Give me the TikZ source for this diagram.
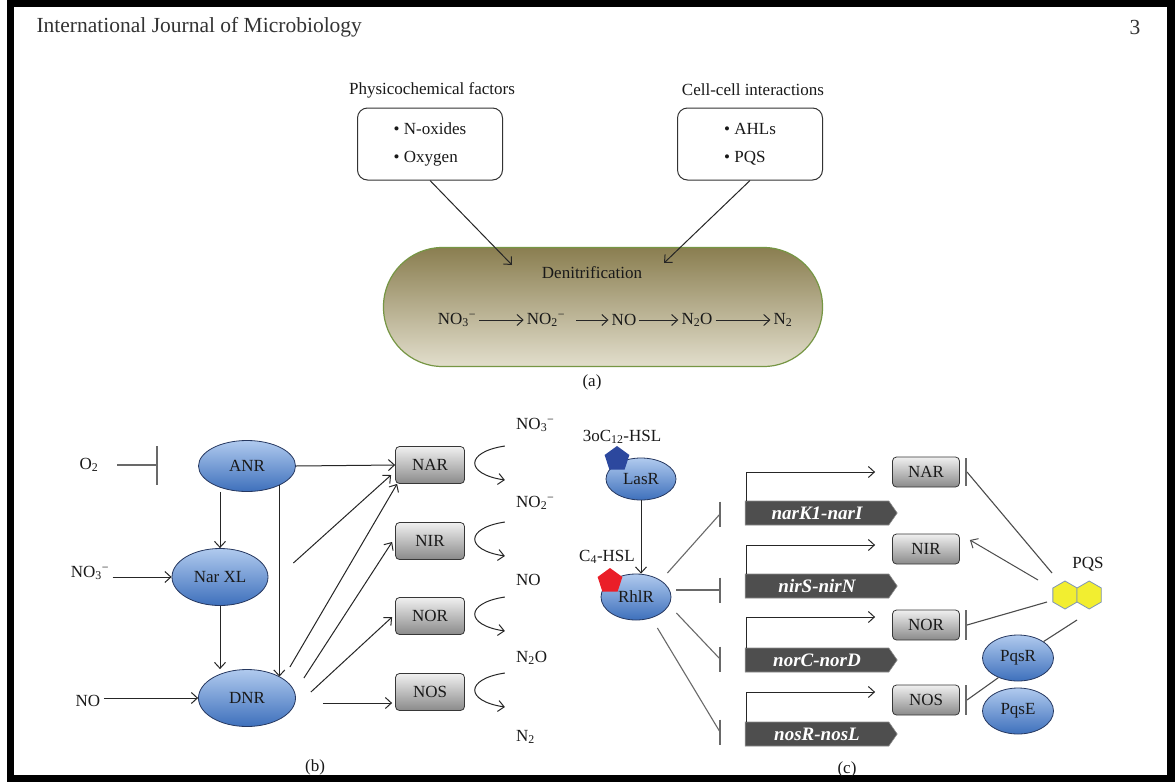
\documentclass[tikz,border=0pt]{standalone}
\usepackage{fontspec}
\setmainfont{Liberation Serif}
\usetikzlibrary{arrows.meta,shapes.geometric,shapes.symbols,calc}
\definecolor{ellTop}{RGB}{176,202,238}
\definecolor{ellBot}{RGB}{62,112,188}
\definecolor{ellLine}{RGB}{38,56,96}
\definecolor{boxTop}{RGB}{240,240,240}
\definecolor{boxBot}{RGB}{138,138,138}
\definecolor{boxLine}{RGB}{55,55,55}
\definecolor{geneFill}{RGB}{78,78,78}
\definecolor{denTop}{RGB}{138,126,80}
\definecolor{denBot}{RGB}{226,222,204}
\definecolor{denLine}{RGB}{118,150,68}
\definecolor{inhGray}{RGB}{105,105,105}
\definecolor{hexFill}{RGB}{242,238,48}
\definecolor{hexLine}{RGB}{128,150,182}
\definecolor{pentBlue}{RGB}{44,72,158}
\definecolor{pentRed}{RGB}{234,30,40}
\definecolor{txt}{RGB}{25,25,25}
\begin{document}
\begin{tikzpicture}[x=1pt,y=-1pt,
  every node/.style={font=\fontsize{17}{20}\selectfont, text=txt},
  arr/.style={draw=black!85, line width=1pt, -{Straight Barb[length=6pt,width=11pt]}},
  inh/.style={draw=inhGray, line width=1.1pt},
  prot/.style={ellipse, draw=ellLine, line width=0.8pt, top color=ellTop, bottom color=ellBot, inner sep=0pt},
  gbox/.style={rectangle, rounded corners=4pt, draw=boxLine, line width=0.8pt, top color=boxTop, bottom color=boxBot, inner sep=0pt},
  abox/.style={rectangle, rounded corners=10pt, draw=black!80, line width=1pt, minimum width=145pt, minimum height=72pt, align=left},
  gene/.style={signal, signal to=east, signal pointer angle=110, fill=geneFill, draw=black!45, line width=0.6pt, minimum width=152pt, minimum height=24pt, inner sep=0pt, text=white, font=\fontsize{19}{20}\selectfont\bfseries\itshape},
  hexa/.style={regular polygon, regular polygon sides=6, shape border rotate=30, minimum size=28pt, inner sep=0pt, outer sep=0pt, fill=hexFill, draw=hexLine, line width=0.8pt},
  penta/.style={regular polygon, regular polygon sides=5, minimum size=26pt, inner sep=0pt},
  lbl/.style={inner sep=1pt}
]
\useasboundingbox (0,0) rectangle (1175,782);
\fill[black] (7,0) rectangle (1175,782);
\fill[white] (14,7) rectangle (1167,775);

% header
\node[anchor=west, font=\fontsize{21.5}{26}\selectfont, text=black!80] (hdr) at (33,27) {International Journal of Microbiology};
\node[font=\fontsize{21.5}{26}\selectfont, text=black!80] (pg) at (1135,27) {3};

% ---------------- (a)
\node (physt) at (432,90) {Physicochemical factors};
\node (cellt) at (753,90) {Cell-cell interactions};
\node[abox] (phys) at (430,144) {\textbullet\ N-oxides\\[8pt]\textbullet\ Oxygen};
\node[abox] (cell) at (750,144) {\textbullet\ AHLs\\[8pt]\textbullet\ PQS};
\node[rectangle, rounded corners=59pt, minimum width=439pt, minimum height=119pt, draw=denLine, line width=1.2pt, top color=denTop, bottom color=denBot] (den) at (603,307) {};
\coordinate (d1) at (512,265);
\coordinate (d2) at (664,263);
\draw[arr] (phys.south) -- (d1);
\draw[arr] (cell.south) -- (d2);
\node (dent) at (592,273) {Denitrification};
\node[inner sep=3pt] (r1) at (457,320) {NO\textsubscript{3}\textsuperscript{−}};
\node[inner sep=3pt] (r2) at (546,320) {NO\textsubscript{2}\textsuperscript{−}};
\node[inner sep=3pt] (r3) at (624,320) {NO};
\node[inner sep=3pt] (r4) at (697,320) {N\textsubscript{2}O};
\node[inner sep=3pt] (r5) at (783,320) {N\textsubscript{2}};
\draw[arr] (r1.east) -- (r2.west);
\draw[arr] ([xshift=8pt]r2.east) -- (r3.west);
\draw[arr] (r3.east) -- (r4.west);
\draw[arr] (r4.east) -- (r5.west);
\node (capa) at (592,382) {(a)};

% ---------------- (b)
\node[prot, minimum width=97pt, minimum height=51pt] (anr) at (247,466) {ANR};
\node[prot, minimum width=96pt, minimum height=57pt] (narxl) at (220,577) {Nar XL};
\node[prot, minimum width=97pt, minimum height=57pt] (dnr) at (247,698) {DNR};
\node (o2) at (89,465) {O\textsubscript{2}};
\coordinate (o2bar) at (157,465);
\draw[inh] (o2) ++(28,0) -- (o2bar);
\draw[inh] (o2bar) ++(0,-19) -- ++(0,39);
\node (no3l) at (90,573) {NO\textsubscript{3}\textsuperscript{−}};
\node (nol) at (88,701) {NO};
\draw[arr] (no3l.east |- narxl.west) -- (narxl.west);
\draw[arr] (nol.east |- dnr.west) -- (dnr.west);
\draw[arr] (narxl.north |- anr.south) -- (narxl.north);
\draw[arr] (anr.-31) -- (dnr.33 -| anr.-31);
\draw[arr] (narxl.south) -- (narxl.south |- dnr.north);

\node[gbox, minimum width=69pt, minimum height=37pt] (narb) at (430,465) {NAR};
\node[gbox, minimum width=69pt, minimum height=37pt] (nirb) at (430,541) {NIR};
\node[gbox, minimum width=69pt, minimum height=37pt] (norb) at (430,616) {NOR};
\node[gbox, minimum width=69pt, minimum height=37pt] (nosb) at (430,692) {NOS};
\draw[arr] (anr.east) -- (narb.west);
\draw[arr] ([shift={(25,-14)}]narxl.east) -- ([shift={(-4,10)}]narb.west);
\draw[arr] ([shift={(-6,-31)}]dnr.east) -- ([shift={(2,0)}]narb.south west);
\draw[arr] ([shift={(8,-20)}]dnr.east) -- ([shift={(-3,1)}]nirb.west);
\draw[arr] ([shift={(15,-6)}]dnr.east) -- ([shift={(-3,1)}]norb.west);
\draw[arr] ([shift={(27,5)}]dnr.east) -- ([shift={(-3,11)}]nosb.west);
\foreach \b in {narb,nirb,norb,nosb}{
  \draw[arr] ([shift={(40,-19)}]\b.east) .. controls +(-40,6) and +(-40,-6) .. ([shift={(40,15)}]\b.east);
}
\node[anchor=west, lbl] (s1) at (515,425) {NO\textsubscript{3}\textsuperscript{−}};
\node[anchor=west, lbl] (s2) at (515,503) {NO\textsubscript{2}\textsuperscript{−}};
\node[anchor=west, lbl] (s3) at (515,580) {NO};
\node[anchor=west, lbl] (s4) at (515,658) {N\textsubscript{2}O};
\node[anchor=west, lbl] (s5) at (515,737) {N\textsubscript{2}};
\node (capb) at (315,767) {(b)};

% ---------------- (c)
\node[prot, minimum width=70pt, minimum height=42pt] (las) at (641,479) {LasR};
\node[prot, minimum width=70pt, minimum height=46pt] (rhl) at (636,597) {RhlR};
\node[penta, fill=pentBlue] (pb) at (617,459) {};
\node[penta, fill=pentRed] (pr) at (610,581) {};
\node (hsl1) at (622,437) {3oC\textsubscript{12}-HSL};
\node (hsl2) at (607,557) {C\textsubscript{4}-HSL};
\draw[arr] (las.south) -- (las.south |- rhl.north);

\node[gene] (g1) at (817,513) {narK1-narI};
\node[gene] (g2) at (817,586) {nirS-nirN};
\node[gene] (g3) at (817,660) {norC-norD};
\node[gene] (g4) at (817,734) {nosR-nosL};
\coordinate (i1) at (720,514);
\coordinate (i2) at (720,590);
\coordinate (i3) at (720,659);
\coordinate (i4) at (720,732);
\draw[inh] ([shift={(-4,-24)}]rhl.east) -- (i1);
\draw[inh] ([shift={(5,-7)}]rhl.east) -- (i2);
\draw[inh] ([shift={(5,16)}]rhl.east) -- (i3);
\draw[inh] ([shift={(-14,31)}]rhl.east) -- (i4);
\foreach \c in {i1,i2,i3,i4}{\draw[inh] (\c) ++(0,-12.5) -- ++(0,25);}

\node[gbox, minimum width=67pt, minimum height=30pt] (nar2) at (926,472) {NAR};
\node[gbox, minimum width=67pt, minimum height=30pt] (nir2) at (926,549) {NIR};
\node[gbox, minimum width=67pt, minimum height=30pt] (nor2) at (926,625) {NOR};
\node[gbox, minimum width=67pt, minimum height=30pt] (nos2) at (926,700) {NOS};
\draw[arr] ([xshift=2pt]g1.west |- g1.north) |- ([xshift=-17pt]nar2.west);
\draw[arr] ([xshift=2pt]g2.west |- g2.north) |- ([shift={(-17,-4)}]nir2.west);
\draw[arr] ([xshift=2pt]g3.west |- g3.north) |- ([shift={(-17,-8)}]nor2.west);
\draw[arr] ([xshift=2pt]g4.west |- g4.north) |- ([shift={(-17,-8)}]nos2.west);

\node[hexa] (hx1) at (1065,595) {};
\node[hexa] (hx2) at (1089.2,595) {};
\node (pqs) at (1088,564) {PQS};
\node[prot, minimum width=71pt, minimum height=46pt] (pqsr) at (1018,658) {PqsR};
\node[prot, minimum width=71pt, minimum height=46pt] (pqse) at (1018,711) {PqsE};
\coordinate (bn1) at (967,472);
\coordinate (bn3) at (967,625);
\coordinate (bn4) at (967,700);
\draw[inh, draw=black!70] ([shift={(-13,-22)}]hx1.center) -- (bn1);
\draw[arr, draw=black!70] ([shift={(-27,-15)}]hx1.center) -- ([shift={(10,-9)}]nir2.east);
\draw[inh, draw=black!70] ([shift={(-18,7)}]hx1.center) -- (bn3);
\draw[inh, draw=black!70] ([shift={(12,25)}]hx1.center) -- (pqsr);
\draw[inh, draw=black!70] (pqsr.225) -- (bn4);
\draw[inh] (bn1) ++(-1,-14) -- ++(0,28);
\draw[inh] (bn3) ++(-1,-15) -- ++(0,30);
\draw[inh] (bn4) ++(-1,-15) -- ++(0,30);
\node (capc) at (847,769) {(c)};
\end{tikzpicture}
\end{document}
